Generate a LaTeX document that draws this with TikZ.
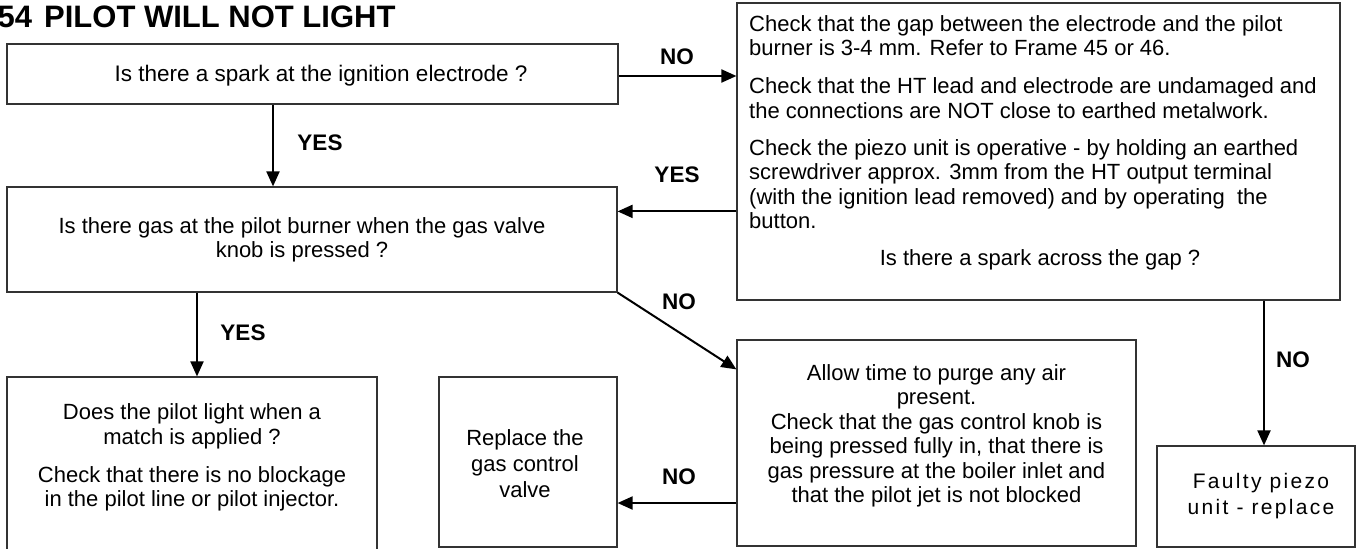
\documentclass[tikz,border=0pt]{standalone}
\usepackage{fontspec}
\setmainfont{Liberation Sans}
\newfontfamily\spacedfont[LetterSpace=11]{Liberation Sans}
\usetikzlibrary{arrows.meta}
\begin{document}
\begin{tikzpicture}[x=1pt,y=-1pt,
  box/.style={draw=black!80, line width=1.2pt, inner sep=0pt},
  txt/.style={inner sep=0pt, font=\fontsize{22}{24.5}\selectfont},
  lbl/.style={inner sep=0pt, font=\fontsize{22.5}{25}\selectfont\bfseries},
  arr/.style={line width=2pt, -{Triangle[length=15pt,width=13pt]}}]
\useasboundingbox (0,0) rectangle (1358,549);
% title
\node[inner sep=0pt, anchor=base west, font=\fontsize{31}{31}\selectfont\bfseries] (title) at (-2.5,27) {54\hspace{12pt}PILOT WILL NOT LIGHT};
% boxes
\node[box, minimum width=611pt, minimum height=60pt] (A) at (312.5,74) {};
\node[box, minimum width=603pt, minimum height=297pt] (B) at (1038.5,151.5) {};
\node[box, minimum width=610pt, minimum height=105pt] (C) at (312,239.5) {};
\node[box, minimum width=370pt, minimum height=188pt] (D) at (192,471) {};
\node[box, minimum width=178pt, minimum height=170pt] (E) at (528,462) {};
\node[box, minimum width=399pt, minimum height=206pt] (F) at (936.5,443) {};
\node[box, minimum width=198pt, minimum height=101pt] (G) at (1256,496.5) {};
% texts
\node[txt, anchor=base, font=\fontsize{22.5}{25}\selectfont] (tA) at (321,81) {Is there a spark at the ignition electrode ?};
\node[txt, anchor=base west] (tB) at (749,31) {\begin{tabular}[t]{@{}l@{}}
Check that the gap between the electrode and the pilot\\
burner is 3-4 mm. Refer to Frame 45 or 46.\\[13.5pt]
Check that the HT lead and electrode are undamaged and\\
the connections are NOT close to earthed metalwork.\\[12.5pt]
Check the piezo unit is operative - by holding an earthed\\
screwdriver approx. 3mm from the HT output terminal\\
(with the ignition lead removed) and by operating\ \ the\\
button.\end{tabular}};
\node[txt, anchor=base] (tB2) at (1040,265) {Is there a spark across the gap ?};
\node[txt, anchor=base] (tC) at (302,233) {\begin{tabular}[t]{@{}c@{}}
Is there gas at the pilot burner when the gas valve\\
knob is pressed ?\end{tabular}};
\node[txt, anchor=base] (tD) at (192,419) {\begin{tabular}[t]{@{}c@{}}
Does the pilot light when a\\[1pt]
match is applied ?\\[13pt]
Check that there is no blockage\\
in the pilot line or pilot injector.\end{tabular}};
\node[txt, anchor=base] (tE) at (525,445) {\begin{tabular}[t]{@{}c@{}}
Replace the\\[1.5pt]
gas control\\[1.5pt]
valve\end{tabular}};
\node[txt, anchor=base] (tF) at (936.5,380) {\begin{tabular}[t]{@{}c@{}}
Allow time to purge any air\\
present.\\
Check that the gas control knob is\\
being pressed fully in, that there is\\
gas pressure at the boiler inlet and\\
that the pilot jet is not blocked\end{tabular}};
\node[inner sep=0pt, anchor=base, font=\spacedfont\fontsize{21}{26.5}\selectfont] (tG) at (1261,488) {\begin{tabular}[t]{@{}c@{}}
Faulty piezo\\
unit - replace\end{tabular}};
% labels
\node[lbl] (n1) at (677,57) {NO};
\node[lbl] (y1) at (677,175) {YES};
\node[lbl] (y2) at (320,143) {YES};
\node[lbl] (y3) at (243,333) {YES};
\node[lbl] (n2) at (679,302) {NO};
\node[lbl] (n3) at (679,477) {NO};
\node[lbl] (n4) at (1293,360) {NO};
% connectors
\coordinate (ab) at ([yshift=-2pt]A.east);
\draw[arr] (ab) -- (ab -| B.west);
\coordinate (bc) at ([yshift=-25pt]C.north east);
\draw[arr] (bc -| B.west) -- (bc);
\coordinate (ac) at ([xshift=-39.5pt]A.south);
\draw[arr] (ac) -- (ac |- C.north);
\coordinate (cd) at ([xshift=5pt]D.north);
\draw[arr] (cd |- C.south) -- (cd);
\coordinate (cf) at ([yshift=-30pt]F.north west);
\draw[arr] (C.south east) -- (cf);
\coordinate (fe) at ([yshift=-41pt]E.east);
\draw[arr] (fe -| F.west) -- (fe);
\coordinate (bg) at ([xshift=8pt]G.north);
\draw[arr] (bg |- B.south) -- (bg);
\end{tikzpicture}
\end{document}
